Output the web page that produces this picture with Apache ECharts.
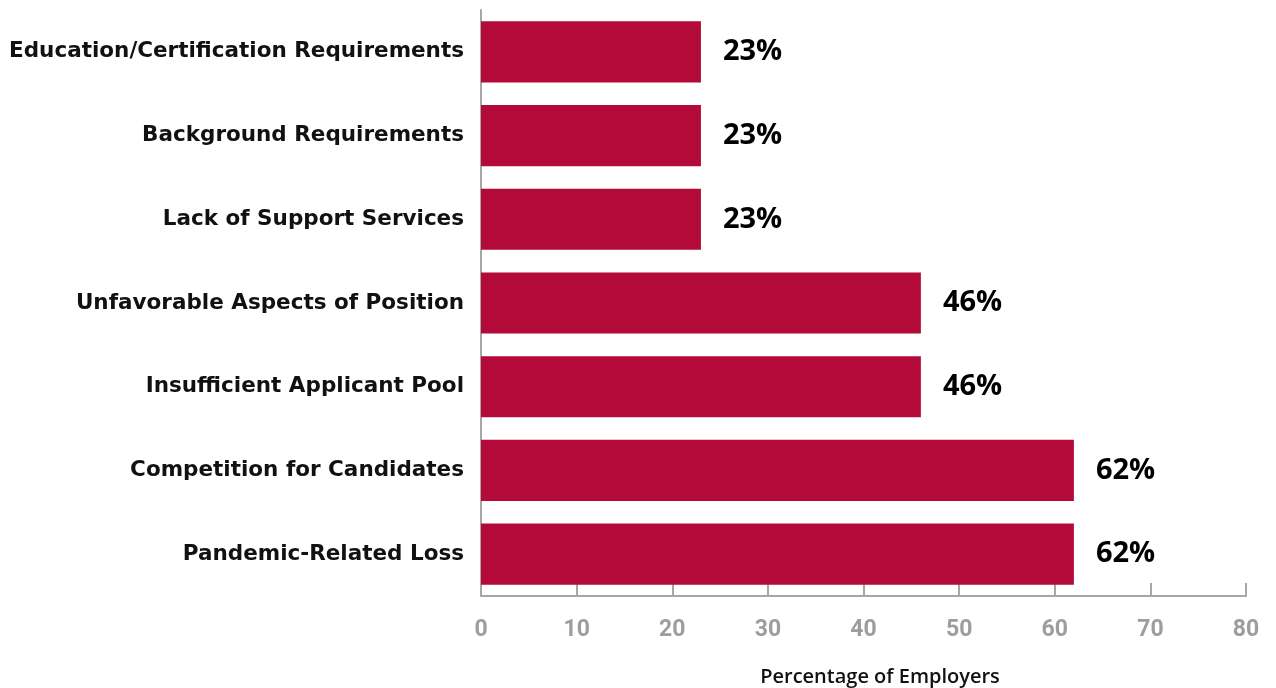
<!DOCTYPE html>
<html>
<head>
<meta charset="utf-8">
<script src="https://cdn.jsdelivr.net/npm/echarts@6/dist/echarts.min.js"></script>
<style>
  html, body { margin: 0; padding: 0; background: #fff; }
  #chart { width: 1276px; height: 688px; }
</style>
</head>
<body>
<div id="chart"></div>
<script>
// Reasons employers give for hiring difficulty, share of employers (%)
const categories = [
  'Education/Certification Requirements',
  'Background Requirements',
  'Lack of Support Services',
  'Unfavorable Aspects of Position',
  'Insufficient Applicant Pool',
  'Competition for Candidates',
  'Pandemic-Related Loss'
];
const values = [23, 23, 23, 46, 46, 62, 62];
const axisTitle = 'Percentage of Employers';

const SANS = '"Open Sans", Roboto, sans-serif';
const WIDE = '"DejaVu Sans", "Open Sans", sans-serif';
const NARROW = '"Liberation Sans Narrow", Roboto, sans-serif';
const chart = echarts.init(document.getElementById('chart'));

chart.setOption({
  animation: false,
  grid: {
    left: 481, right: 30, top: 10, bottom: 92,
    containLabel: false, outerBoundsMode: 'none'
  },
  xAxis: {
    type: 'value',
    min: 0,
    max: 80,
    interval: 10,
    name: axisTitle,
    nameLocation: 'middle',
    nameGap: 71,
    nameTextStyle: {
      color: '#111', fontFamily: SANS, fontSize: 20, fontWeight: 600,
      padding: [0, 0, 0, 33]
    },
    axisLine: { show: true, lineStyle: { color: '#a7a7a7', width: 2 } },
    axisTick: { show: true, inside: true, length: 13, lineStyle: { color: '#a7a7a7', width: 2 } },
    axisLabel: { color: '#9d9d9f', fontFamily: NARROW, fontSize: 23, fontWeight: 'bold', margin: 23 },
    splitLine: { show: false }
  },
  yAxis: {
    type: 'category',
    data: categories,
    inverse: true,
    axisLine: { show: true, lineStyle: { color: '#a7a7a7', width: 2 } },
    axisTick: { show: false },
    axisLabel: { color: '#111', fontFamily: WIDE, fontSize: 21.5, fontWeight: 'bold', margin: 17 }
  },
  series: [{
    type: 'bar',
    data: values,
    barCategoryGap: '27%',
    itemStyle: { color: '#b40a39' },
    label: {
      show: true,
      position: 'right',
      distance: 22,
      formatter: '{c}%',
      color: '#000',
      fontFamily: SANS,
      fontSize: 29,
      fontWeight: 'bold'
    }
  }]
});
</script>
</body>
</html>
